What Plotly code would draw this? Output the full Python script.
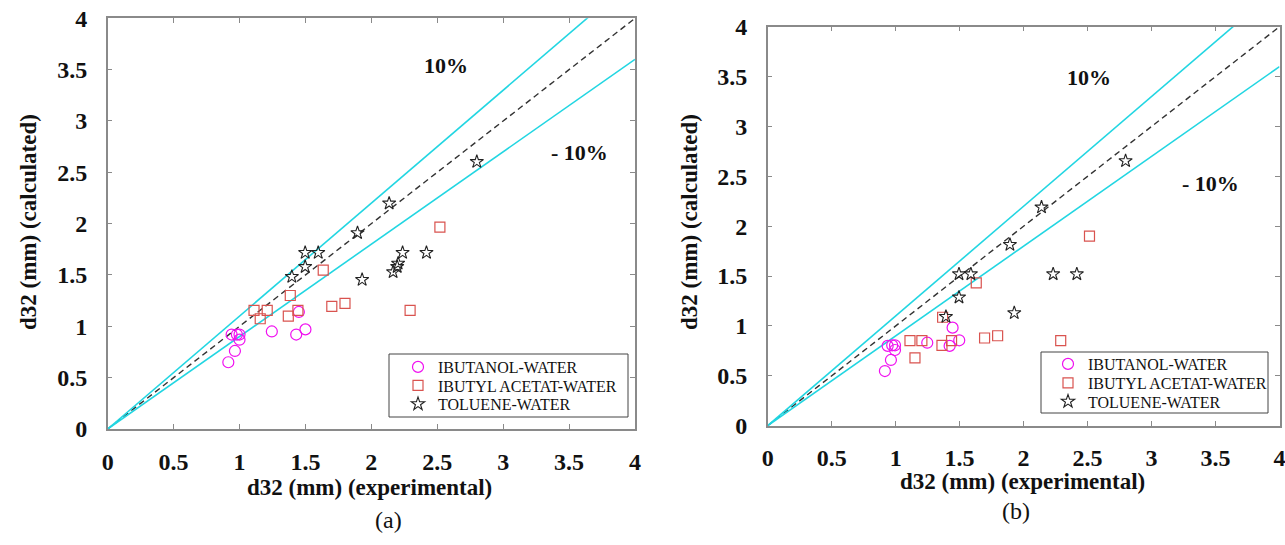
import plotly.graph_objects as go

# ---------------- data ----------------
# Panel (a)
a_ibutanol_x = [0.94, 0.98, 1.00, 1.00, 0.965, 0.915, 1.245, 1.43, 1.50, 1.45]
a_ibutanol_y = [0.92, 0.92, 0.92, 0.87, 0.76, 0.65, 0.95, 0.92, 0.97, 1.14]
a_ibutyl_x = [1.11, 1.21, 1.157, 1.37, 1.385, 1.443, 1.635, 1.70, 1.80, 2.294, 2.52]
a_ibutyl_y = [1.156, 1.156, 1.074, 1.10, 1.30, 1.156, 1.548, 1.195, 1.224, 1.156, 1.967]
a_toluene_x = [1.397, 1.498, 1.498, 1.597, 1.895, 2.135, 1.93, 2.165, 2.196, 2.203, 2.237, 2.418, 2.80]
a_toluene_y = [1.483, 1.58, 1.717, 1.717, 1.91, 2.198, 1.454, 1.529, 1.58, 1.613, 1.717, 1.717, 2.603]

# Panel (b)
b_ibutanol_x = [0.916, 0.963, 0.9375, 0.973, 0.995, 0.995, 1.247, 1.422, 1.497, 1.445]
b_ibutanol_y = [0.548, 0.659, 0.80, 0.806, 0.806, 0.759, 0.832, 0.80, 0.856, 0.983]
b_ibutyl_x = [1.112, 1.205, 1.151, 1.362, 1.437, 1.367, 1.63, 1.695, 1.797, 2.29, 2.515]
b_ibutyl_y = [0.852, 0.852, 0.679, 0.806, 0.852, 1.087, 1.431, 0.879, 0.902, 0.852, 1.90]
b_toluene_x = [1.393, 1.495, 1.495, 1.588, 1.893, 2.14, 1.927, 2.231, 2.416, 2.797]
b_toluene_y = [1.093, 1.287, 1.52, 1.52, 1.815, 2.19, 1.13, 1.52, 1.52, 2.654]

series_names = ["IBUTANOL-WATER", "IBUTYL ACETAT-WATER", "TOLUENE-WATER"]
ref_x = [0, 4]
ref_factors = [1.0, 1.1, 0.9]
tick_vals = [0, 0.5, 1, 1.5, 2, 2.5, 3, 3.5, 4]
tick_text = ["0", "0.5", "1", "1.5", "2", "2.5", "3", "3.5", "4"]

# ---------------- style ----------------
SERIF = "Liberation Serif"
MAG = "#f010f0"
RED = "#d9534f"
BLK = "#222222"
CYAN = "#22d6e2"
AXC = "#8a8a8a"

W, H = 1285, 545


def px_x(p):
    return p / W


def px_y(p):
    return 1 - p / H


fig = go.Figure()

panels = [
    dict(xa="x", ya="y",
         data=[(a_ibutanol_x, a_ibutanol_y), (a_ibutyl_x, a_ibutyl_y), (a_toluene_x, a_toluene_y)],
         box=(107.7, 635.0, 18.3, 429.0),
         legends=["legend", "legend2", "legend3"], leg_x=398, leg_y=[367, 385.5, 404]),
    dict(xa="x2", ya="y2",
         data=[(b_ibutanol_x, b_ibutanol_y), (b_ibutyl_x, b_ibutyl_y), (b_toluene_x, b_toluene_y)],
         box=(767.7, 1279.5, 26.7, 425.7),
         legends=["legend4", "legend5", "legend6"], leg_x=1048, leg_y=[364, 383, 401.5]),
]

markers = [
    dict(symbol="circle-open", size=11, color=MAG, line=dict(width=1.2, color=MAG)),
    dict(symbol="square-open", size=10, color=RED, line=dict(width=1.2, color=RED)),
    dict(symbol="star-open", size=10, color=BLK, line=dict(width=1.1, color=BLK)),
]

legend_layouts = {}
for p in panels:
    # reference lines
    for f in ref_factors:
        is_id = f == 1.0
        fig.add_trace(go.Scatter(
            x=ref_x, y=[v * f for v in ref_x], mode="lines", xaxis=p["xa"], yaxis=p["ya"],
            line=dict(color="#333333" if is_id else CYAN, width=1.4 if is_id else 1.6,
                      dash="6px,4px" if is_id else "solid"),
            showlegend=False, hoverinfo="skip"))
    for (xs, ys), name, m, lg, ly in zip(p["data"], series_names, markers, p["legends"], p["leg_y"]):
        fig.add_trace(go.Scatter(
            x=xs, y=ys, mode="markers", name=name, xaxis=p["xa"], yaxis=p["ya"],
            marker=m, legend=lg, cliponaxis=False, showlegend=True))
        legend_layouts[lg] = dict(
            x=px_x(p["leg_x"]), y=px_y(ly), xanchor="left", yanchor="middle",
            bgcolor="rgba(0,0,0,0)", borderwidth=0,
            font=dict(family=SERIF, size=16, color="#111111"),
            itemwidth=30)

axis_common = dict(
    range=[0, 4], tickvals=tick_vals, ticktext=tick_text, showgrid=False, zeroline=False,
    showline=True, linecolor=AXC, linewidth=1.5, mirror="ticks", ticks="inside",
    ticklen=5, tickcolor=AXC, tickwidth=1, automargin=False, ticklabeloverflow="allow",
    tickfont=dict(family=SERIF, size=24, color="#111111", weight="bold"),
)

l0, r0, t0, b0 = panels[0]["box"]
l1, r1, t1, b1 = panels[1]["box"]

fig.update_layout(
    width=W, height=H, margin=dict(l=0, r=0, t=0, b=0, autoexpand=False),
    paper_bgcolor="white", plot_bgcolor="white",
    xaxis=dict(domain=[px_x(l0), px_x(r0)], anchor="y", ticklabelstandoff=10, **axis_common),
    yaxis=dict(domain=[px_y(b0), px_y(t0)], anchor="x", ticklabelstandoff=14, **axis_common),
    xaxis2=dict(domain=[px_x(l1), px_x(r1)], anchor="y2", ticklabelstandoff=10, **axis_common),
    yaxis2=dict(domain=[px_y(b1), px_y(t1)], anchor="x2", ticklabelstandoff=14, **axis_common),
    showlegend=True,
    **legend_layouts,
)

# legend frames
fig.add_shape(type="rect", xref="paper", yref="paper",
              x0=px_x(389), x1=px_x(628), y0=px_y(417), y1=px_y(354),
              line=dict(color="#444444", width=1), fillcolor="white", layer="below")
fig.add_shape(type="rect", xref="paper", yref="paper",
              x0=px_x(1041), x1=px_x(1268), y0=px_y(413), y1=px_y(352),
              line=dict(color="#444444", width=1), fillcolor="white", layer="below")

bold = dict(family=SERIF, size=23, color="#111111", weight="bold")
ann = [
    # axis titles
    dict(text="d32 (mm) (experimental)", x=px_x(370), y=px_y(487)),
    dict(text="d32 (mm) (experimental)", x=px_x(1023), y=px_y(481)),
    dict(text="d32 (mm) (calculated)", x=px_x(28), y=px_y(222), textangle=-90),
    dict(text="d32 (mm) (calculated)", x=px_x(689), y=px_y(222), textangle=-90),
]
for a in ann:
    fig.add_annotation(xref="paper", yref="paper", xanchor="center", yanchor="middle",
                       showarrow=False, font=bold, **a)

# percentage labels (data coordinates)
pct = dict(family=SERIF, size=22, color="#111111", weight="bold")
fig.add_annotation(text="10%", x=2.57, y=3.54, xref="x", yref="y", showarrow=False, font=pct)
fig.add_annotation(text="- 10%", x=3.58, y=2.69, xref="x", yref="y", showarrow=False, font=pct)
fig.add_annotation(text="10%", x=2.51, y=3.49, xref="x2", yref="y2", showarrow=False, font=pct)
fig.add_annotation(text="- 10%", x=3.46, y=2.43, xref="x2", yref="y2", showarrow=False, font=pct)

# panel labels
reg = dict(family=SERIF, size=24, color="#111111")
fig.add_annotation(text="(a)", x=px_x(373), y=px_y(535), xref="paper", yref="paper",
                   showarrow=False, font=reg)
fig.add_annotation(text="(b)", x=px_x(1032), y=px_y(526), xref="paper", yref="paper",
                   showarrow=False, font=reg)

fig.write_html("out.html")
